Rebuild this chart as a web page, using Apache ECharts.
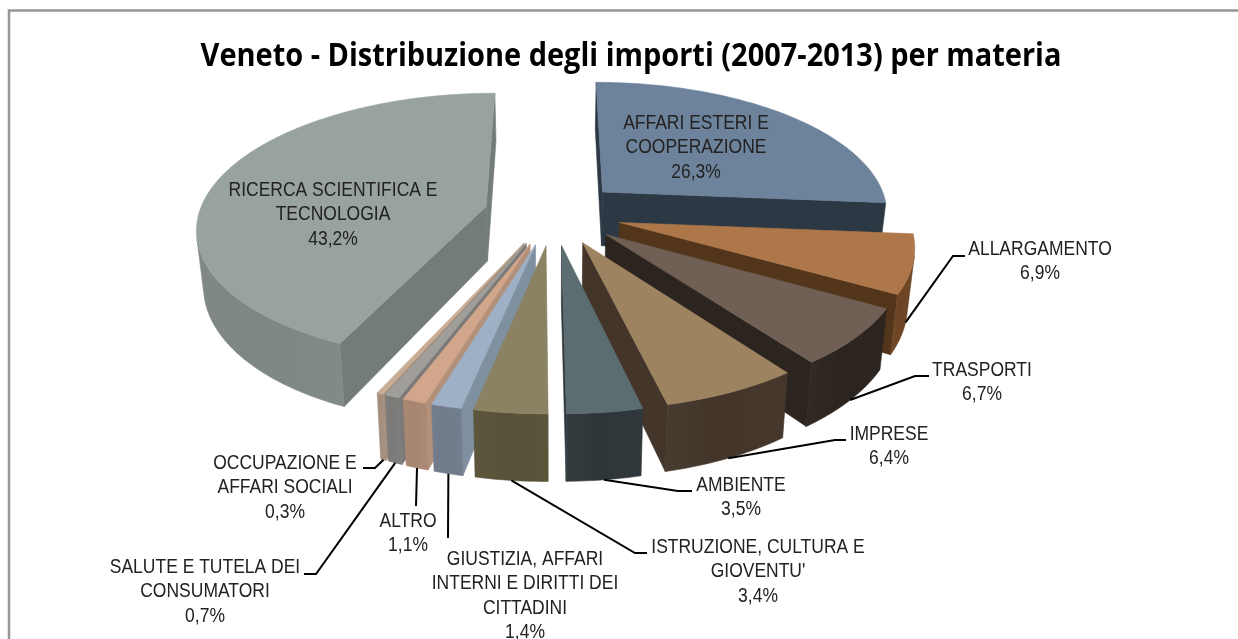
<!DOCTYPE html>
<html><head><meta charset="utf-8">
<style>html,body{margin:0;padding:0;background:#fff}#c{width:1238px;height:639px}</style>
<script src="https://cdn.jsdelivr.net/npm/echarts@6/dist/echarts.min.js"></script>
</head><body><div id="c"></div>
<script>
// DATA (clockwise from 12 o'clock)
const categories = ["AFFARI ESTERI E\nCOOPERAZIONE","ALLARGAMENTO","TRASPORTI","IMPRESE","AMBIENTE","ISTRUZIONE, CULTURA E\nGIOVENTU'","GIUSTIZIA, AFFARI\nINTERNI E DIRITTI DEI\nCITTADINI","ALTRO","SALUTE E TUTELA DEI\nCONSUMATORI","OCCUPAZIONE E\nAFFARI SOCIALI","RICERCA SCIENTIFICA E\nTECNOLOGIA"];
const values = [26.3,6.9,6.7,6.4,3.5,3.4,1.4,1.1,0.7,0.3,43.2];
const title = "Veneto - Distribuzione degli importi (2007-2013) per materia";

// STYLE
const topColors   = ["#6d829b","#ad774a","#6f5f54","#9d835f","#5b6d71","#8a8262","#9db0c6","#d2a68b","#a09e9a","#c8ad96","#98a2a1"];
const outerColors = ["#2c3843","#6d4525","#2b241f","#43352a","#2f363a","#575238","#6f7a8a","#a78570","#7c7a78","#a38e7e","#7d8685"];
const radialColors= ["#2c3843","#52351a","#2b241f","#43352a","#2f363a","#575238","#7f90a0","#b29079","#7c7a78","#a38e7e","#737c7b"];
const paintOrder = [10,0,1,2,3,4,9,8,7,6,5];

// LAYOUT
const labelCenters = [[696,111],[1040,237],[982,358],[889,422],[741,473],[758,535],[525,547],[408,509],[205,555],[285,451],[333,178]];
const leaderBends  = [null,[[953,256],[965,256]],[[915,376],[929,376]],[[835,440],[846,440]],[[678,491],[692,491]],[[635,553],[647,553]],[[448,538]],[[416,506]],[[316,574],[304,574]],[[375,468],[363,468]],null];
const P = {cx:553, cy:213, R:287, S:132, p:0.15, f:0.24, D:55, k:0.98};

// GEOMETRY
const total = values.reduce((a,b)=>a+b,0);
let acc = 0;
const spans = values.map(v=>{const a0=acc/total*2*Math.PI; acc+=v; return [a0,acc/total*2*Math.PI];});
function proj(X,Y,base){
  const w=1-P.p*Y, kk=base?P.k:1;
  return [P.cx+P.R*X/w*kk, P.cy+P.S*Y/w+(base?P.D/w:0)];
}
function ground(i,a,r){
  const m=(spans[i][0]+spans[i][1])/2;
  return [P.f*Math.sin(m)+r*Math.sin(a), -P.f*Math.cos(m)-r*Math.cos(a)];
}
function pt(i,a,r,base){const g=ground(i,a,r);return proj(g[0],g[1],base);}
function area(q){let s=0;for(let j=0;j<q.length;j++){const b=q[(j+1)%q.length];s+=q[j][0]*b[1]-b[0]*q[j][1];}return s;}

function renderSlice(params,api){
  const i=api.value(0), val=api.value(1);
  const a0=spans[i][0], a1=a0+val/total*2*Math.PI;
  const n=Math.max(2,Math.ceil((a1-a0)/0.02));
  const arcT=[],arcB=[];
  for(let j=0;j<=n;j++){const a=a0+(a1-a0)*j/n;arcT.push(pt(i,a,1,false));arcB.push(pt(i,a,1,true));}
  const apT=pt(i,a0,0,false), apB=pt(i,a0,0,true);
  const children=[];
  const poly=(pts,fill,stroke)=>children.push({type:'polygon',shape:{points:pts},style:{fill:fill,stroke:stroke||fill,lineWidth:0.6},silent:true});
  [[apT,arcT[0],arcB[0],apB],[arcT[n],apT,apB,arcB[n]]].forEach(q=>{if(area(q)<0)poly(q,radialColors[i]);});
  let run=null;
  const base=outerColors[i];
  const grad={type:'linear',x:0,y:0,x2:1,y2:0,colorStops:[
    {offset:0,color:echarts.color.lift(base,0.03)},
    {offset:0.4,color:base},
    {offset:1,color:echarts.color.lift(base,-0.04)}]};
  const flush=()=>{if(run&&run.t.length>1)poly(run.t.concat(run.b.reverse()),grad,base);run=null;};
  for(let j=0;j<n;j++){
    const q=[arcT[j],arcT[j+1],arcB[j+1],arcB[j]];
    if(area(q)<0){ if(!run)run={t:[arcT[j]],b:[arcB[j]]}; run.t.push(arcT[j+1]);run.b.push(arcB[j+1]); }
    else flush();
  }
  flush();
  poly([apT].concat(arcT),topColors[i]);
  return {type:'group',children:children};
}
function renderLabel(params,api){
  const i=api.value(0), val=api.value(1);
  const m=(spans[i][0]+spans[i][1])/2;
  const children=[{type:'text',x:labelCenters[i][0],y:labelCenters[i][1],scaleX:0.853,silent:true,
    style:{text:categories[i]+"\n"+val.toFixed(1).replace('.',',')+"%",fill:'#222',
      font:'20.5px "Liberation Sans",sans-serif',lineHeight:24.5,align:'center',verticalAlign:'top'}}];
  if(leaderBends[i]){
    children.push({type:'polyline',silent:true,shape:{points:[pt(i,m,1,true)].concat(leaderBends[i])},style:{stroke:'#000',lineWidth:2,fill:null}});
  }
  return {type:'group',children:children};
}
const chart=echarts.init(document.getElementById('c'),null,{renderer:'canvas'});
chart.setOption({
  animation:false,backgroundColor:'#fff',
  graphic:[
    {type:'polyline',silent:true,shape:{points:[[9,650],[9,10.5],[1250,10.5]]},style:{stroke:'#959595',lineWidth:2.5,fill:null}},
    {type:'text',silent:true,x:631,y:57,scaleX:0.905,style:{text:title,fill:'#000',font:'bold 32px "Open Sans",sans-serif',align:'center',verticalAlign:'middle'}}
  ],
  series:[
    {type:'custom',coordinateSystem:'none',z:2,renderItem:renderSlice,encode:{},data:paintOrder.map(i=>[i,values[i]])},
    {type:'custom',coordinateSystem:'none',z:3,renderItem:renderLabel,encode:{},data:values.map((v,i)=>[i,v])}
  ]
});
</script></body></html>
